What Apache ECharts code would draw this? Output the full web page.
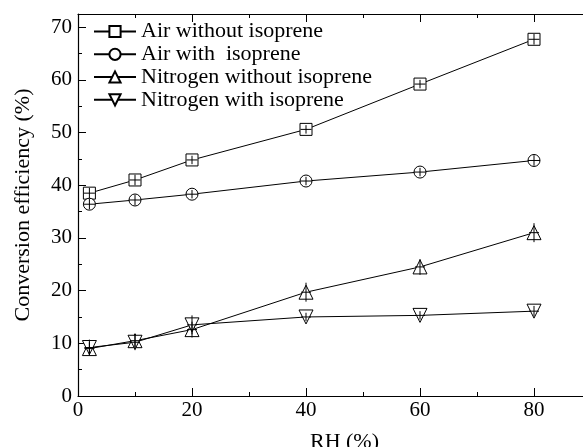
<!DOCTYPE html>
<html><head><meta charset="utf-8">
<script src="https://cdn.jsdelivr.net/npm/echarts@6/dist/echarts.min.js"></script>
<style>html,body{margin:0;padding:0;background:#fff}#c{width:583px;height:447px}</style>
</head><body><div id="c"></div>
<script>
const rh = [2, 10, 20, 40, 60, 80];
const airWithout = [38.5, 41.0, 44.8, 50.6, 59.2, 67.7];
const airWith = [36.4, 37.2, 38.3, 40.8, 42.5, 44.7];
const n2Without = [9.0, 10.5, 12.6, 19.7, 24.5, 31.0];
const n2With = [9.2, 10.2, 13.5, 15.0, 15.3, 16.1];
const errAirWithout = [1.0, 1.0, 0.8, 0.8, 0.8, 1.0];
const errAirWith = [1.0, 1.0, 0.8, 0.8, 0.8, 1.0];
const errN2Without = [1.2, 1.2, 1.5, 1.8, 1.5, 1.8];
const errN2With = [1.5, 1.5, 1.8, 0.8, 0.8, 1.0];
const names = ['Air without isoprene', 'Air with  isoprene', 'Nitrogen without isoprene', 'Nitrogen with isoprene'];
const xTicks = [0, 20, 40, 60, 80];
const yTicks = [0, 10, 20, 30, 40, 50, 60, 70];

const FONT = 'Liberation Serif';
const pair = (ys) => rh.map((x, i) => [x, ys[i]]);
const triple = (ys, es) => rh.map((x, i) => [x, ys[i], es[i]]);

function lineSeries(name, ys, symbol, rotate, size) {
  return {
    type: 'line', name, data: pair(ys), symbol, symbolSize: size, symbolRotate: rotate,
    showAllSymbol: true,
    lineStyle: { color: '#000', width: 1 },
    itemStyle: { color: '#fff', borderColor: '#000', borderWidth: 1 },
    z: 3, animation: false
  };
}
function errSeries(ys, es, halfW) {
  return {
    type: 'custom', data: triple(ys, es), z: 4, silent: true, animation: false,
    renderItem: function (params, api) {
      const x = api.value(0), y = api.value(1), e = api.value(2);
      const c = api.coord([x, y]);
      const lo = api.coord([x, y - e]);
      const hi = api.coord([x, y + e]);
      const st = { stroke: '#000', lineWidth: 1 };
      return { type: 'group', children: [
        { type: 'line', shape: { x1: c[0], y1: lo[1], x2: c[0], y2: hi[1] }, style: st },
        { type: 'line', shape: { x1: c[0] - halfW, y1: c[1], x2: c[0] + halfW, y2: c[1] }, style: st }
      ]};
    }
  };
}

const legendCenters = [31.5, 54.3, 77, 99.8];
const axisLineStyle = { color: '#000', width: 1.2 };
const tickStyle = { color: '#000', width: 1 };
const chart = echarts.init(document.getElementById('c'), null, { renderer: 'canvas' });
chart.setOption({
  backgroundColor: '#fff',
  animation: false,
  legend: names.map((n, i) => ({
    data: [n], left: 93, top: legendCenters[i] - 12, padding: 0,
    itemWidth: 42, itemHeight: 14, itemGap: 0, selectedMode: false,
    textStyle: { fontFamily: FONT, fontSize: 22, color: '#000', padding: [0, 0, 0, 0], lineHeight: 24 }
  })),
  grid: { left: 78, top: 14, right: -8, bottom: 51, containLabel: false, outerBoundsMode: 'none' },
  xAxis: [{
    type: 'value', min: 0, max: 90, interval: 20,
    name: 'RH (%)', nameLocation: 'middle', nameGap: 35,
    nameTextStyle: { fontFamily: FONT, fontSize: 22, color: '#000', padding: [0, 0, 0, 20] },
    axisLine: { show: true, onZero: false, lineStyle: axisLineStyle },
    axisTick: { show: true, inside: true, length: 8, lineStyle: tickStyle },
    minorTick: { show: true, splitNumber: 2, length: 4, lineStyle: tickStyle },
    axisLabel: { fontFamily: FONT, fontSize: 21, color: '#000', margin: 4,
      formatter: v => xTicks.includes(v) ? String(v) : '' },
    splitLine: { show: false }
  }, {
    type: 'value', position: 'top', min: 0, max: 90, interval: 20,
    axisLine: { show: true, onZero: false, lineStyle: axisLineStyle },
    axisTick: { show: true, inside: true, length: 8, lineStyle: tickStyle },
    minorTick: { show: true, splitNumber: 2, length: 4, lineStyle: tickStyle },
    axisLabel: { show: false }, splitLine: { show: false }
  }],
  yAxis: [{
    type: 'value', min: 0, max: 72.5, interval: 10,
    name: 'Conversion efficiency (%)', nameLocation: 'middle', nameGap: 44,
    nameTextStyle: { fontFamily: FONT, fontSize: 22, color: '#000' },
    axisLine: { show: true, onZero: false, lineStyle: axisLineStyle },
    axisTick: { show: true, inside: true, length: 8, lineStyle: tickStyle },
    axisLabel: { fontFamily: FONT, fontSize: 21, color: '#000', margin: 6,
      formatter: v => yTicks.includes(v) ? String(v) : '' },
    splitLine: { show: false }
  }, {
    type: 'value', position: 'left', min: 0, max: 72.5, interval: 5,
    axisLine: { show: false },
    axisTick: { show: true, inside: true, length: 4, lineStyle: tickStyle },
    axisLabel: { show: false }, splitLine: { show: false }
  }],
  series: [
    lineSeries(names[0], airWithout, 'rect', 0, 12),
    lineSeries(names[1], airWith, 'circle', 0, 12),
    lineSeries(names[2], n2Without, 'triangle', 0, 14),
    lineSeries(names[3], n2With, 'triangle', 180, 14),
    errSeries(airWithout, errAirWithout, 5.5),
    errSeries(airWith, errAirWith, 6),
    errSeries(n2Without, errN2Without, 5),
    errSeries(n2With, errN2With, 5)
  ]
});
</script></body></html>
